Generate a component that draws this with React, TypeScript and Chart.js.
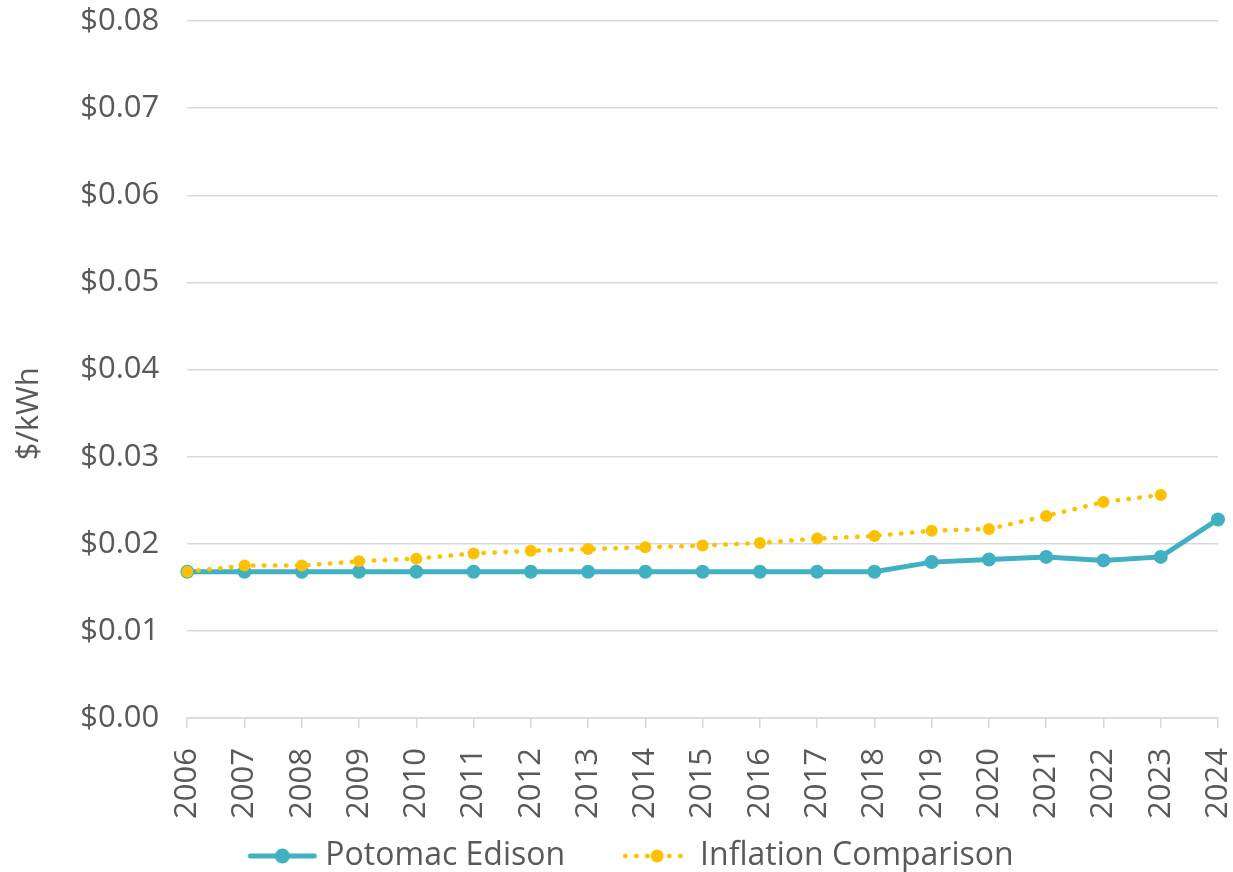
import React, { useEffect, useRef } from "react";
import { Chart, registerables } from "chart.js";

Chart.register(...registerables);

const years = ["2006","2007","2008","2009","2010","2011","2012","2013","2014","2015","2016","2017","2018","2019","2020","2021","2022","2023","2024"];
const potomac = [0.0168,0.0168,0.0168,0.0168,0.0168,0.0168,0.0168,0.0168,0.0168,0.0168,0.0168,0.0168,0.0168,0.0179,0.0182,0.0185,0.0181,0.0185,0.0228];
const inflation = [0.0168,0.0175,0.0175,0.0180,0.0183,0.0189,0.0192,0.0194,0.0196,0.0198,0.0201,0.0206,0.0209,0.0215,0.0217,0.0232,0.0248,0.0256,null];
const yTicks = [0, 0.01, 0.02, 0.03, 0.04, 0.05, 0.06, 0.07, 0.08];
const yTitle = "$/kWh";

const TEAL = "#41b0c3";
const GOLD = "#ffc000";
const TEXT = "#595959";
const FONT = "'Open Sans', sans-serif";

const BOX_W = 118;
const LEG_PAD = 1;
const LEG_FONT = 32;
const LEG_SHIFT = -12;

function legendIcon(color: string, dotted: boolean): HTMLCanvasElement {
  // visible icon 70px wide, placed at the right end of a wider transparent canvas
  const w = BOX_W + LEG_FONT / 2 - 8;
  const imgW = 2 * (w - BOX_W / 2);
  const c = document.createElement("canvas");
  c.width = Math.round(imgW); c.height = 20;
  const ctx = c.getContext("2d")!;
  const x1 = c.width - 70;
  ctx.strokeStyle = color;
  ctx.fillStyle = color;
  ctx.lineCap = "round";
  if (dotted) {
    ctx.lineWidth = 4.5;
    ctx.setLineDash([0.5, 10.5]);
  } else {
    ctx.lineWidth = 5;
  }
  ctx.beginPath();
  ctx.moveTo(x1 + 3, 10);
  ctx.lineTo(x1 + 67, 10);
  ctx.stroke();
  ctx.setLineDash([]);
  ctx.beginPath();
  ctx.arc(x1 + 35, 10, dotted ? 6.5 : 7.5, 0, Math.PI * 2);
  ctx.fill();
  return c;
}

const legendShift = {
  id: "legendShift",
  afterLayout(chart: any) {
    const l = chart.legend;
    if (l) {
      l.left += LEG_SHIFT;
      l.right += LEG_SHIFT;
    }
  },
};

export default function App() {
  const ref = useRef<HTMLCanvasElement>(null);
  useEffect(() => {
    const icons = [legendIcon(GOLD, true), legendIcon(TEAL, false)];
    const chart = new Chart(ref.current!, {
      type: "line",
      plugins: [legendShift],
      data: {
        labels: years,
        datasets: [
          {
            label: "Inflation Comparison",
            data: inflation,
            borderColor: GOLD,
            backgroundColor: GOLD,
            borderWidth: 4.5,
            borderDash: [0.5, 10.5],
            borderCapStyle: "round",
            pointRadius: 6,
            pointBorderWidth: 0,
            pointBackgroundColor: GOLD,
            tension: 0,
            spanGaps: false,
          },
          {
            label: "Potomac Edison",
            data: potomac,
            borderColor: TEAL,
            backgroundColor: TEAL,
            borderWidth: 5,
            pointRadius: 7,
            pointBorderWidth: 0,
            pointBackgroundColor: TEAL,
            tension: 0,
          },
        ],
      },
      options: {
        animation: false,
        responsive: false,
        layout: { padding: { top: 21, right: 15, left: 11, bottom: -10 } },
        plugins: {
          tooltip: { enabled: false },
          legend: {
            position: "bottom",
            reverse: true,
            labels: {
              color: TEXT,
              font: { family: FONT, size: LEG_FONT },
              usePointStyle: true,
              pointStyleWidth: BOX_W,
              boxHeight: 20,
              padding: LEG_PAD,
              generateLabels: (ch: any) => {
                const ds = ch.data.datasets;
                return ds.map((d: any, i: number) => ({
                  text: d.label,
                  datasetIndex: i,
                  pointStyle: icons[i],
                  fontColor: TEXT,
                  hidden: false,
                  lineWidth: 0,
                  strokeStyle: "transparent",
                  fillStyle: "transparent",
                }));
              },
            },
          },
        },
        scales: {
          x: {
            offset: false,
            afterFit: (axis: any) => {
              axis.paddingLeft = 0;
              axis.paddingRight = 0;
            },
            grid: { drawOnChartArea: false, drawTicks: true, tickLength: 10, color: "#d9d9d9", lineWidth: 1.5 },
            border: { display: true, color: "#d9d9d9", width: 1.5 },
            ticks: {
              color: TEXT,
              font: { family: FONT, size: 31 },
              maxRotation: 90,
              minRotation: 90,
              autoSkip: false,
              padding: 20,
            },
          },
          y: {
            min: 0,
            max: 0.08,
            afterBuildTicks: (axis: any) => {
              axis.ticks = yTicks.map((v) => ({ value: v }));
            },
            afterFit: (axis: any) => {
              axis.paddingTop = 0;
              axis.paddingBottom = 0;
            },
            grid: { color: "#d9d9d9", lineWidth: 1.5, drawTicks: false },
            border: { display: false },
            ticks: {
              color: TEXT,
              font: { family: FONT, size: 31 },
              padding: 28,
              callback: (v: any) => "$" + Number(v).toFixed(2),
            },
            title: {
              display: true,
              text: yTitle + "           ",
              color: TEXT,
              font: { family: FONT, size: 31 },
              padding: { top: 0, bottom: 4 },
            },
          },
        },
      },
    });
    return () => chart.destroy();
  }, []);
  return (
    <div style={{ position: "fixed", left: 0, top: 0, width: 1233, height: 872, background: "#fff" }}>
      <canvas ref={ref} width={1233} height={872} style={{ display: "block" }} />
    </div>
  );
}
